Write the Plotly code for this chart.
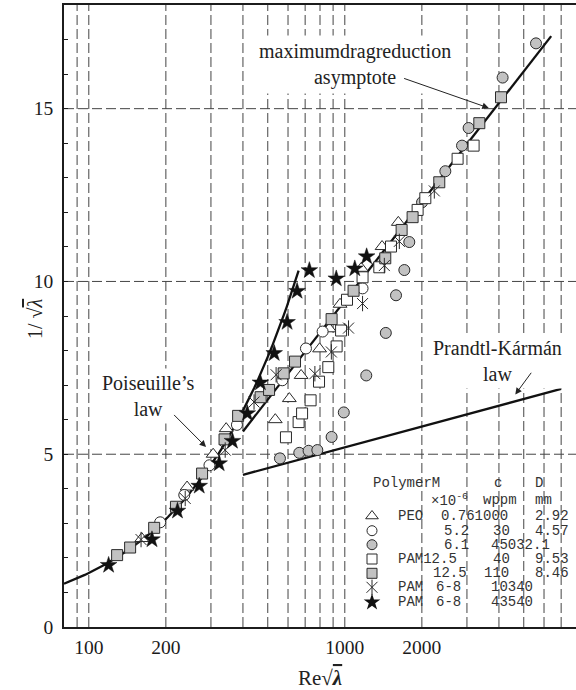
import numpy as np
import plotly.graph_objects as go

# ---------------------------------------------------------------
# Friction data in Prandtl coordinates: x = Re*sqrt(lambda), y = 1/sqrt(lambda)
# ---------------------------------------------------------------
peo_076_x = [161, 242, 306, 344, 535, 607, 675, 797, 870, 958, 1160, 1398, 1618]
peo_076_y = [2.56, 4.05, 5.00, 5.74, 6.00, 6.61, 7.28, 8.05, 8.63, 9.34, 10.38, 11.01, 11.71]

peo_52_x = [190, 236, 296, 379, 570, 705, 819, 1173]
peo_52_y = [3.03, 3.82, 4.68, 5.85, 7.14, 8.06, 8.55, 9.80]

peo_61_x = [558, 664, 722, 781, 888, 991, 1213, 1446, 1585, 1708, 1786, 2003, 2470, 2870, 3045, 4134, 5583]
peo_61_y = [4.88, 5.04, 5.10, 5.12, 5.50, 6.21, 7.28, 8.51, 9.60, 10.33, 11.14, 12.29, 13.19, 13.93, 14.44, 15.90, 16.89]

pam_40_x = [589, 660, 681, 735, 793, 862, 929, 967, 1020, 1173, 1364, 1515, 1925, 2063, 2758, 3185]
pam_40_y = [5.49, 5.93, 6.18, 6.56, 7.10, 7.52, 8.12, 8.58, 9.47, 10.12, 10.41, 11.01, 12.07, 12.41, 13.55, 13.93]

pam_110_x = [129, 145, 180, 219, 277, 339, 383, 469, 506, 577, 639, 888, 1082, 1439, 1667, 1840, 2339, 3353, 4075]
pam_110_y = [2.08, 2.30, 2.87, 3.48, 4.44, 5.43, 6.11, 6.65, 6.86, 7.34, 7.68, 8.91, 9.73, 10.67, 11.49, 11.86, 12.87, 14.58, 15.33]

pam_103_x = [160, 238, 341, 442, 539, 764, 886, 1034, 1173, 1427, 1633, 2237]
pam_103_y = [2.53, 3.72, 5.12, 6.51, 7.30, 7.33, 7.96, 8.65, 9.36, 10.46, 11.16, 12.62]

pam_435_x = [119.5, 176.5, 222, 270, 323, 364, 416, 468, 530, 595, 651, 727, 926, 1094, 1217]
pam_435_y = [1.79, 2.53, 3.36, 4.08, 4.73, 5.38, 6.18, 7.07, 7.92, 8.82, 9.72, 10.32, 10.08, 10.37, 10.72]

# Reference laws
pois_span = [80, 660]      # laminar: 1/sqrt(lam) = Re*sqrt(lam)/64
pk_span = [400, 7000]      # Prandtl-Karman: 1/sqrt(lam) = 2.0 log10(Re sqrt(lam)) - 0.8
mdr_span = [400, 6400]     # MDR asymptote: 1/sqrt(lam) = 9.5 log10(Re sqrt(lam)) - 19.06

# Axes
x_range = [80, 8000]
y_range = [0, 18]
x_tickvals = [100, 200, 1000, 2000]
x_ticktext = ["100", "200", "1000", "2000"]
grid_x = [90, 100, 200, 300, 400, 500, 600, 700, 800, 900, 1000,
          2000, 3000, 4000, 5000, 6000, 7000]
grid_y = [5, 10, 15]

# Legend table
legend_header = [["PolymerM", "c", "D"], ["×10<sup>-6</sup>", "wppm", "mm"]]
legend_rows = [
    ["PEO", "0.761000", "2.92"],
    ["5.2", "30", "4.57"],
    ["6.1", "45032.1"],
    ["PAM12.5", "40", "9.53"],
    ["12.5", "110", "8.46"],
    ["PAM", "6-8", "10340"],
    ["PAM", "6-8", "43540"],
]

# ---------------------------------------------------------------
W, H = 576, 690
ML, MR, MT, MB = 64, 0, 5, 63
PW, PH = W - ML - MR, H - MT - MB

SERIF = "Liberation Serif, Times New Roman, serif"
MONO = "Liberation Mono, Courier New, monospace"
INK = "#1c1c1c"
GRID = "#444444"
GREY = "#c2c2c2"
EDGE = "#2a2a2a"


def px(xp):
    return (xp - ML) / PW


def py(yp):
    return (H - MB - yp) / PH


fig = go.Figure()

# law curves
pois_x = np.geomspace(pois_span[0], pois_span[1], 80)
pois_y = pois_x / 64.0
pk_x = np.array(pk_span, dtype=float)
pk_y = 2.0 * np.log10(pk_x) - 0.8
mdr_x = np.array(mdr_span, dtype=float)
mdr_y = 9.5 * np.log10(mdr_x) - 19.06

for cx, cy in [(pois_x, pois_y), (pk_x, pk_y), (mdr_x, mdr_y)]:
    fig.add_trace(go.Scatter(x=cx, y=cy, mode="lines",
                             line=dict(color="#111111", width=2.3),
                             showlegend=False, hoverinfo="skip"))

# marker styles per series
series = [
    (peo_076_x, peo_076_y, dict(symbol="triangle-up", size=12, color="white")),
    (peo_52_x, peo_52_y, dict(symbol="circle", size=11, color="white")),
    (peo_61_x, peo_61_y, dict(symbol="circle", size=11, color=GREY)),
    (pam_40_x, pam_40_y, dict(symbol="square", size=11, color="white")),
    (pam_110_x, pam_110_y, dict(symbol="square", size=11, color=GREY)),
]
for sx, sy, mk in series:
    fig.add_trace(go.Scatter(x=sx, y=sy, mode="markers",
                             marker=dict(**mk, line=dict(color=EDGE, width=1)),
                             showlegend=False))

# six-armed asterisk = vertical bar + thin cross
for sym in ["line-ns-open", "x-thin-open"]:
    fig.add_trace(go.Scatter(x=pam_103_x, y=pam_103_y, mode="markers",
                             marker=dict(symbol=sym, size=11, color=EDGE,
                                         line=dict(color=EDGE, width=1)),
                             showlegend=False))

fig.add_trace(go.Scatter(x=pam_435_x, y=pam_435_y, mode="markers",
                         marker=dict(symbol="star", size=12.5, color="#111111",
                                     line=dict(color="#111111", width=0.5)),
                         showlegend=False))

# ---------------------------------------------------------------
# grid (dashed), drawn below the data
shapes = []
dash = "10px,4px"
for gx in grid_x:
    shapes.append(dict(type="line", xref="x", yref="y", x0=gx, x1=gx,
                       y0=y_range[0], y1=y_range[1], layer="below",
                       line=dict(color=GRID, width=1, dash=dash)))
for gy in grid_y:
    shapes.append(dict(type="line", xref="x", yref="y", x0=x_range[0], x1=x_range[1],
                       y0=gy, y1=gy, layer="below",
                       line=dict(color=GRID, width=1, dash=dash)))
# white panel behind the legend table
shapes.append(dict(type="rect", xref="paper", yref="paper",
                   x0=px(358), x1=1.0, y0=py(614), y1=py(471), layer="below",
                   fillcolor="white", line=dict(width=0)))

# legend symbols on a hidden overlay axis in paper units
leg_sym_x = px(372)
leg_row_y = [516, 530.7, 544.7, 559, 573.3, 587.3, 602.3]
leg_styles = [
    dict(symbol="triangle-up", size=11, color="white"),
    dict(symbol="circle", size=10, color="white"),
    dict(symbol="circle", size=10, color=GREY),
    dict(symbol="square", size=10, color="white"),
    dict(symbol="square", size=10, color=GREY),
]
for i, st in enumerate(leg_styles):
    fig.add_trace(go.Scatter(x=[leg_sym_x], y=[py(leg_row_y[i])], xaxis="x2", yaxis="y2",
                             mode="markers",
                             marker=dict(**st, line=dict(color=EDGE, width=1)),
                             showlegend=False, hoverinfo="skip"))
for sym in ["line-ns-open", "x-thin-open"]:
    fig.add_trace(go.Scatter(x=[leg_sym_x], y=[py(leg_row_y[5])], xaxis="x2", yaxis="y2",
                             mode="markers",
                             marker=dict(symbol=sym, size=11, color=EDGE,
                                         line=dict(color=EDGE, width=1)),
                             showlegend=False, hoverinfo="skip"))
fig.add_trace(go.Scatter(x=[leg_sym_x], y=[py(leg_row_y[6])], xaxis="x2", yaxis="y2",
                         mode="markers",
                         marker=dict(symbol="star", size=12.5, color="#111111"),
                         showlegend=False, hoverinfo="skip"))

annotations = []
mono = dict(family=MONO, size=14, color="#333333")

header_x = [[372, 492.5, 534], [430, 481.7, 534]]
header_y = [483, 500]
for r, row in enumerate(legend_header):
    for c, txt in enumerate(row):
        annotations.append(dict(text=txt, xref="paper", yref="paper",
                                x=px(header_x[r][c]), y=py(header_y[r]),
                                xanchor="left", yanchor="middle",
                                showarrow=False, font=mono, borderpad=0))

cell_x = [
    [396.7, 440, 534],
    [442.7, 491.7, 534],
    [442.7, 490],
    [396.7, 491.7, 534],
    [431.7, 483, 534],
    [396.7, 435, 490],
    [396.7, 435, 490],
]
for r, row in enumerate(legend_rows):
    for c, txt in enumerate(row):
        annotations.append(dict(text=txt, xref="paper", yref="paper",
                                x=px(cell_x[r][c]), y=py(leg_row_y[r]),
                                xanchor="left", yanchor="middle",
                                showarrow=False, font=mono, borderpad=0))

# curve labels (white boxes mask the grid behind them)
serif = dict(family=SERIF, size=20, color="#222222")
lg = np.log10
annotations += [
    dict(text="maximumdragreduction<br>asymptote", x=lg(1094), y=16.27,
         xref="x", yref="y", showarrow=False, font=serif, bgcolor="white",
         borderpad=4, align="center"),
    dict(text="Poiseuille’s<br>law", x=lg(170.8), y=6.68,
         xref="x", yref="y", showarrow=False, font=serif, bgcolor="white",
         borderpad=3, align="center"),
    dict(text="Prandtl-Kármán<br>law", x=lg(3942), y=7.69,
         xref="x", yref="y", showarrow=False, font=serif, bgcolor="white",
         borderpad=3, align="center"),
]

# arrows: tail -> head
arrows = [
    ((1682, 15.89), (3650, 15.02)),
    ((212.5, 6.18), (287, 5.21)),
    ((5401, 7.40), (4634, 6.73)),
]
for (tx, ty), (hx, hy) in arrows:
    annotations.append(dict(text="", x=lg(hx), y=hy, ax=lg(tx), ay=ty,
                            xref="x", yref="y", axref="x", ayref="y",
                            showarrow=True, arrowhead=2, arrowsize=1.3,
                            arrowwidth=1, arrowcolor="#222222", standoff=0))
# small kink at the start of the Prandtl-Karman arrow
shapes.append(dict(type="line", xref="x", yref="y", x0=5000, x1=5401, y0=7.40, y1=7.40,
                   line=dict(color="#222222", width=1)))

# axis titles
annotations += [
    dict(text="Re√<span style='text-decoration:overline'><b><i>λ</i></b></span>",
         xref="paper", yref="paper", x=px(320), y=py(678), yanchor="middle",
         showarrow=False, font=dict(family=SERIF, size=21, color="#222222")),
    dict(text="1/ √<span style='text-decoration:overline'><i>λ</i></span>",
         xref="paper", yref="paper", x=px(22), y=py(319), textangle=-90,
         showarrow=False, font=dict(family=SERIF, size=20, color="#222222")),
]

tickfont = dict(family=SERIF, size=19.5, color="#1a1a1a")
fig.update_layout(
    width=W, height=H,
    margin=dict(l=ML, r=MR, t=MT, b=MB),
    plot_bgcolor="white", paper_bgcolor="white",
    showlegend=False,
    shapes=shapes,
    annotations=annotations,
    xaxis=dict(type="log", range=[np.log10(x_range[0]), np.log10(x_range[1])],
               tickmode="array", tickvals=x_tickvals, ticktext=x_ticktext,
               ticks="", showgrid=False, zeroline=False,
               showline=True, linecolor=INK, linewidth=1.5, mirror=True,
               tickfont=tickfont, ticklabelstandoff=2),
    yaxis=dict(range=y_range, tickmode="linear", tick0=0, dtick=5,
               ticks="inside", ticklen=4, tickcolor=INK,
               minor=dict(dtick=1, ticks="inside", ticklen=4, tickcolor=INK),
               showgrid=False, zeroline=False,
               showline=True, linecolor=INK, linewidth=1.5,
               tickfont=tickfont, ticklabelstandoff=5),
    xaxis2=dict(range=[0, 1], overlaying="x", visible=False, domain=[0, 1]),
    yaxis2=dict(range=[0, 1], overlaying="y", visible=False, domain=[0, 1]),
)

fig.write_html("out.html")
